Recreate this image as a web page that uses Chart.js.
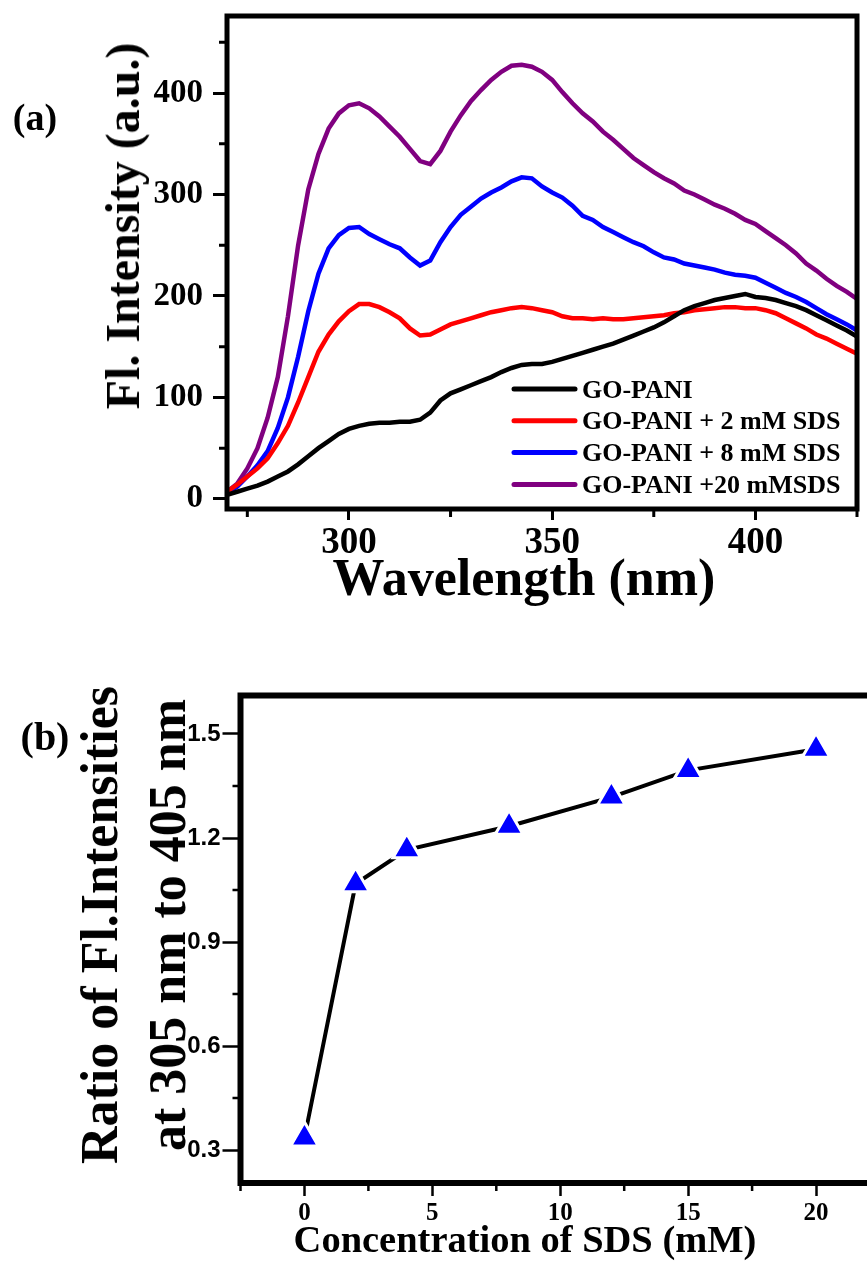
<!DOCTYPE html>
<html>
<head>
<meta charset="utf-8">
<script src="https://cdn.jsdelivr.net/npm/chart.js@4.4.1/dist/chart.umd.min.js"></script>
<style>
  html, body { margin: 0; padding: 0; background: #fff; overflow: hidden; }
  body { width: 867px; height: 1262px; position: relative; }
  #wrapA { position: absolute; left: 0; top: 0; width: 867px; height: 620px; }
  #wrapB { position: absolute; left: 0; top: 620px; width: 867px; height: 642px; overflow: hidden; }
  canvas { display: block; }
  .lbl {
    position: absolute;
    font-family: "Liberation Serif", "Times New Roman", serif;
    font-weight: bold;
    color: #000;
    white-space: nowrap;
    line-height: 1;
    transform: translate(-50%, -50%);
  }
  .rot { transform: translate(-50%, -50%) rotate(-90deg); }
</style>
</head>
<body>
<div id="wrapA"><canvas id="chartA" width="867" height="620"></canvas></div>
<div id="wrapB"><canvas id="chartB" width="900" height="642"></canvas></div>

<div class="lbl" style="left:35px; top:117px; font-size:38px;">(a)</div>
<div class="lbl rot" style="left:123px; top:226px; font-size:48px;">Fl. Intensity (a.u.)</div>
<div class="lbl" style="left:524px; top:578px; font-size:52px;">Wavelength (nm)</div>

<div class="lbl" style="left:45px; top:737px; font-size:40px;">(b)</div>
<div class="lbl rot" style="left:134px; top:925px; font-size:52px; line-height:68px; text-align:center;">Ratio of Fl.Intensities<br>at 305 nm to 405 nm</div>
<div class="lbl" style="left:525px; top:1239px; font-size:37px; transform:translate(-50%,-50%) scaleX(1.04);">Concentration of SDS (mM)</div>

<script>
// ---------- DATA: (a) fluorescence spectra ----------
const wavelength = [270, 272.5, 275, 277.5, 280, 282.5, 285, 287.5, 290, 292.5, 295, 297.5,
  300, 302.5, 305, 307.5, 310, 312.5, 315, 317.5, 320, 322.5, 325, 327.5, 330, 332.5, 335, 337.5,
  340, 342.5, 345, 347.5, 350, 352.5, 355, 357.5, 360, 362.5, 365, 367.5, 370, 372.5, 375, 377.5,
  380, 382.5, 385, 387.5, 390, 392.5, 395, 397.5, 400, 402.5, 405, 407.5, 410, 412.5, 415, 417.5,
  420, 422.5, 425]

const goPani = [4, 7, 10, 13, 17, 22, 27, 34, 42, 50, 57, 64,
  69, 72, 74, 75, 75, 76, 76, 78, 85, 97, 104, 108, 112, 116, 120, 125,
  129, 132, 133, 133, 135, 138, 141, 144, 147, 150, 153, 157, 161, 165, 169, 174,
  180, 186, 190, 193, 196, 198, 200, 202, 199, 198, 196, 193, 190, 186, 181, 176,
  171, 166, 160]

const sds2 = [7, 14, 22, 30, 40, 55, 72, 95, 120, 145, 162, 175,
  185, 192, 192, 189, 184, 178, 168, 161, 162, 167, 172, 175, 178, 181, 184, 186,
  188, 189, 188, 186, 184, 180, 178, 178, 177, 178, 177, 177, 178, 179, 180, 181,
  183, 184, 186, 187, 188, 189, 189, 188, 188, 186, 183, 178, 173, 168, 162, 158,
  153, 148, 143]

const sds8 = [6, 12, 22, 33, 47, 70, 100, 140, 185, 222, 247, 260,
  267, 268, 261, 256, 251, 247, 238, 230, 235, 253, 268, 280, 288, 296, 302, 307,
  313, 317, 316, 308, 302, 297, 289, 279, 275, 268, 263, 258, 253, 249, 243, 238,
  236, 232, 230, 228, 226, 223, 221, 220, 218, 213, 208, 203, 199, 194, 188, 182,
  177, 172, 166]

const sds20 = [7, 15, 30, 50, 80, 120, 180, 250, 305, 340, 365, 380,
  388, 390, 385, 377, 367, 357, 345, 333, 330, 343, 362, 378, 392, 403, 413, 421,
  427, 428, 426, 421, 413, 401, 390, 380, 372, 362, 354, 345, 336, 329, 322, 316,
  311, 304, 300, 295, 290, 286, 281, 275, 271, 264, 257, 250, 242, 232, 225, 217,
  210, 204, 197]

const seriesNames = ["GO-PANI", "GO-PANI + 2 mM SDS", "GO-PANI + 8 mM SDS", "GO-PANI +20 mMSDS"]
const seriesColors = ["#000000", "#ff0000", "#0000ff", "#800080"]

const xTicksA = [300, 350, 400]
const xMinorA = [275, 325, 375, 425]
const yTicksA = [0, 100, 200, 300, 400]
const yMinorA = [50, 150, 250, 350, 450]

// ---------- DATA: (b) intensity ratio ----------
const sdsConc = [0, 2, 4, 8, 12, 15, 20]
const ratio = [0.335, 1.068, 1.166, 1.234, 1.318, 1.395, 1.456]

const xTicksB = [0, 5, 10, 15, 20]
const xMinorB = [-2.5, 2.5, 7.5, 12.5, 17.5]
const yTicksB = [0.3, 0.6, 0.9, 1.2, 1.5]
const yMinorB = [0.45, 0.75, 1.05, 1.35]

// ---------- PLUGINS ----------
// frame round the plot area + short minor ticks
const framePlugin = {
  id: "frame",
  afterDraw(chart, args, opts) {
    const { ctx, chartArea: a, scales } = chart
    ctx.save()
    ctx.strokeStyle = "#000"
    ctx.lineWidth = opts.width
    if (opts.closed) {
      ctx.strokeRect(a.left, a.top, a.right - a.left, a.bottom - a.top)
    } else {
      // open on the right: the figure is cut before the right edge of the box
      ctx.beginPath()
      ctx.moveTo(a.right, a.top)
      ctx.lineTo(a.left, a.top)
      ctx.lineTo(a.left, a.bottom)
      ctx.lineTo(a.right, a.bottom)
      ctx.stroke()
    }
    ctx.lineWidth = opts.tickWidth
    ctx.beginPath()
    opts.xMinor.forEach((v) => {
      const px = scales.x.getPixelForValue(v)
      ctx.moveTo(px, a.bottom)
      ctx.lineTo(px, a.bottom + opts.minorLen)
    })
    opts.yMinor.forEach((v) => {
      const py = scales.y.getPixelForValue(v)
      ctx.moveTo(a.left, py)
      ctx.lineTo(a.left - opts.minorLen, py)
    })
    ctx.stroke()
    ctx.restore()
  },
}

// legend inside the plot, line sample + label
const insideLegend = {
  id: "insideLegend",
  afterDatasetsDraw(chart, args, opts) {
    const ctx = chart.ctx
    ctx.save()
    ctx.font = opts.font
    ctx.textBaseline = "alphabetic"
    chart.data.datasets.forEach((ds, i) => {
      const y = opts.y + i * opts.gap
      ctx.strokeStyle = ds.borderColor
      ctx.lineWidth = 5
      ctx.lineCap = "round"
      ctx.beginPath()
      ctx.moveTo(opts.x, y)
      ctx.lineTo(opts.x + opts.lineLen, y)
      ctx.stroke()
      ctx.fillStyle = "#000"
      ctx.fillText(ds.label, opts.x + opts.lineLen + opts.textGap, y + opts.baseShift)
    })
    ctx.restore()
  },
}

const serif = "'Liberation Serif', 'Times New Roman', serif"

// fixed axis box sizes so the plot area lands where the figure has it
function fixWidth(w) {
  return (s) => { s.width = w; s.paddingTop = 0; s.paddingBottom = 0 }
}
function fixHeight(h) {
  return (s) => { s.height = h; s.paddingLeft = 0; s.paddingRight = 0 }
}

// ---------- CHART (a) ----------
const ctxA = document.getElementById("chartA").getContext("2d")
new Chart(ctxA, {
  type: "line",
  data: {
    labels: wavelength,
    datasets: [goPani, sds2, sds8, sds20].map((vals, i) => ({
      label: seriesNames[i],
      data: vals.map((v, j) => ({ x: wavelength[j], y: v })),
      borderColor: seriesColors[i],
      borderWidth: 4.5,
      pointRadius: 0,
      tension: 0,
      fill: false,
    })),
  },
  options: {
    responsive: false,
    animation: false,
    layout: { padding: { top: 16, right: 10, left: 0, bottom: 0 } },
    plugins: {
      legend: { display: false },
      tooltip: { enabled: false },
      frame: { closed: true, width: 5, tickWidth: 3, minorLen: 8, xMinor: xMinorA, yMinor: yMinorA },
      insideLegend: { x: 514, y: 389, gap: 31.8, lineLen: 61, textGap: 7, baseShift: 8.5, font: "bold 26px " + serif },
    },
    scales: {
      x: {
        type: "linear",
        min: 270,
        max: 425,
        afterBuildTicks: (s) => { s.ticks = xTicksA.map((v) => ({ value: v })) },
        afterFit: fixHeight(111),
        grid: { display: true, drawOnChartArea: false, drawTicks: true, tickLength: 11, tickWidth: 3, tickColor: "#000" },
        border: { display: false },
        ticks: { color: "#000", padding: 1, maxRotation: 0, font: { family: serif, size: 37, weight: "bold" } },
      },
      y: {
        min: -10,
        max: 476,
        afterBuildTicks: (s) => { s.ticks = yTicksA.map((v) => ({ value: v })) },
        afterFit: fixWidth(227),
        grid: { display: true, drawOnChartArea: false, drawTicks: true, tickLength: 14, tickWidth: 3, tickColor: "#000" },
        border: { display: false },
        ticks: { color: "#000", padding: 10, font: { family: serif, size: 33, weight: "bold" } },
      },
    },
  },
  plugins: [framePlugin, insideLegend],
})

// ---------- CHART (b) ----------
// the plot box runs past the right edge of the figure (to 22.5 mM)
const ctxB = document.getElementById("chartB").getContext("2d")
new Chart(ctxB, {
  type: "line",
  data: {
    datasets: [
      {
        label: "ratio",
        data: sdsConc.map((c, i) => ({ x: c, y: ratio[i] })),
        borderColor: "#000",
        borderWidth: 4,
        tension: 0,
        pointStyle: "triangle",
        pointRadius: 16,
        pointBackgroundColor: "#0000ff",
        pointBorderColor: "#ffffff",
        pointBorderWidth: 3,
      },
    ],
  },
  options: {
    responsive: false,
    animation: false,
    layout: { padding: { top: 75.5, right: 20, left: 0, bottom: 0 } },
    plugins: {
      legend: { display: false },
      tooltip: { enabled: false },
      frame: { closed: false, width: 6, tickWidth: 2.5, minorLen: 8, xMinor: xMinorB, yMinor: yMinorB },
    },
    scales: {
      x: {
        type: "linear",
        min: -2.5,
        max: 22.5,
        afterBuildTicks: (s) => { s.ticks = xTicksB.map((v) => ({ value: v })) },
        afterFit: fixHeight(79),
        grid: { display: true, drawOnChartArea: false, drawTicks: true, tickLength: 13, tickWidth: 2.5, tickColor: "#000" },
        border: { display: false },
        ticks: { color: "#000", padding: 3, maxRotation: 0, font: { family: serif, size: 25, weight: "bold" } },
      },
      y: {
        min: 0.205,
        max: 1.611,
        afterBuildTicks: (s) => { s.ticks = yTicksB.map((v) => ({ value: v })) },
        afterFit: fixWidth(240.5),
        grid: { display: true, drawOnChartArea: false, drawTicks: true, tickLength: 18, tickWidth: 2.5, tickColor: "#000" },
        border: { display: false },
        ticks: {
          color: "#000",
          padding: 2,
          font: { family: "'Liberation Sans', Arial, sans-serif", size: 24, weight: "bold" },
          callback: (v) => Number(v).toFixed(1),
        },
      },
    },
  },
  plugins: [framePlugin],
})
</script>
</body>
</html>
